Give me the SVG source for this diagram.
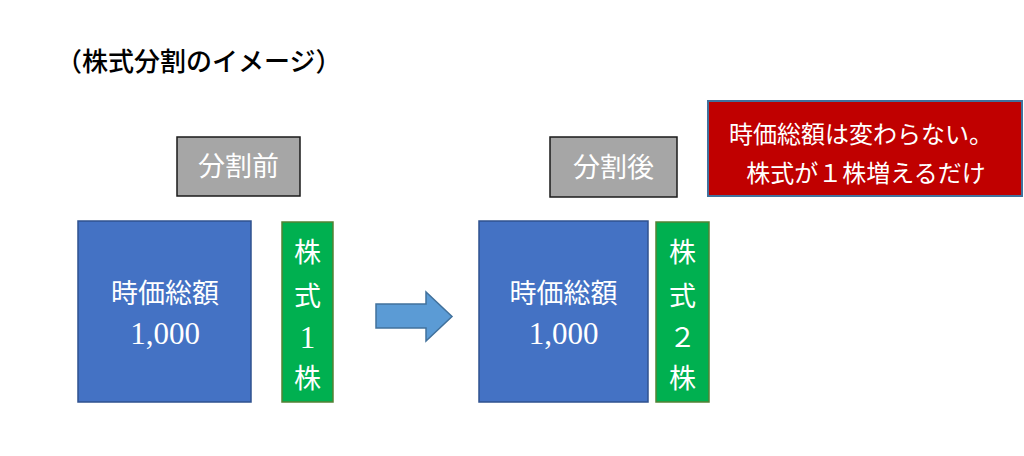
<svg xmlns="http://www.w3.org/2000/svg" width="1024" height="456" viewBox="0 0 1024 456">
<style>
.t{font-family:"Noto Sans CJK JP",sans-serif;fill:#fff;font-size:27px;text-anchor:middle}
.n{font-family:"Liberation Serif",serif;fill:#fff;font-size:31px;text-anchor:middle}
.lbl{font-family:"Noto Sans CJK JP",sans-serif;fill:#fff;font-size:27px;text-anchor:middle}
.note{font-family:"Noto Sans CJK JP",sans-serif;fill:#fff;font-size:24px;text-anchor:middle}
.gray{fill:#a6a6a6;stroke:#1a1a1a;stroke-width:1.5}
.blue{fill:#4472c4;stroke:#2f528f;stroke-width:1.5}
.green{fill:#00b050;stroke:#548235;stroke-width:1.5}
</style>
<rect width="1024" height="456" fill="#fff"/>
<g id="title"><text x="56" y="71" font-family="Noto Sans CJK JP,sans-serif" font-size="26" font-weight="500" fill="#000">（株式分割のイメージ）</text></g>
<g id="before-label"><rect class="gray" x="177" y="137" width="123" height="59"/><text class="lbl" x="238.5" y="176">分割前</text></g>
<g id="after-label"><rect class="gray" x="550" y="137" width="127" height="60"/><text class="lbl" x="613.5" y="177">分割後</text></g>
<g id="before-value"><rect class="blue" x="78" y="221" width="173" height="181"/><text class="t" x="165" y="303">時価総額</text><text class="n" x="165" y="344">1,000</text></g>
<g id="before-shares"><rect class="green" x="282" y="222" width="51" height="180"/><text class="t" x="307.5" y="262">株</text><text class="t" x="307.5" y="306">式</text><text class="n" x="307.5" y="348">1</text><text class="t" x="307.5" y="388">株</text></g>
<g id="after-value"><rect class="blue" x="479" y="221" width="169" height="181"/><text class="t" x="563.5" y="303">時価総額</text><text class="n" x="563.5" y="344">1,000</text></g>
<g id="after-shares"><rect class="green" x="656" y="222" width="53" height="180"/><text class="t" x="682.5" y="262">株</text><text class="t" x="682.5" y="306">式</text><text class="t" x="682.5" y="347">２</text><text class="t" x="682.5" y="388">株</text></g>
<g id="note"><rect x="708" y="101" width="314" height="95" fill="#c00000" stroke="#41719c" stroke-width="2"/><text class="note" x="861" y="143">時価総額は変わらない。</text><text class="note" x="866" y="182">株式が１株増えるだけ</text></g>
<g id="connectors"><polygon points="376,304 426,304 426,292 452,316.5 426,341 426,328 376,328" fill="#5b9bd5" stroke="#41719c" stroke-width="1.5"/></g>
</svg>
